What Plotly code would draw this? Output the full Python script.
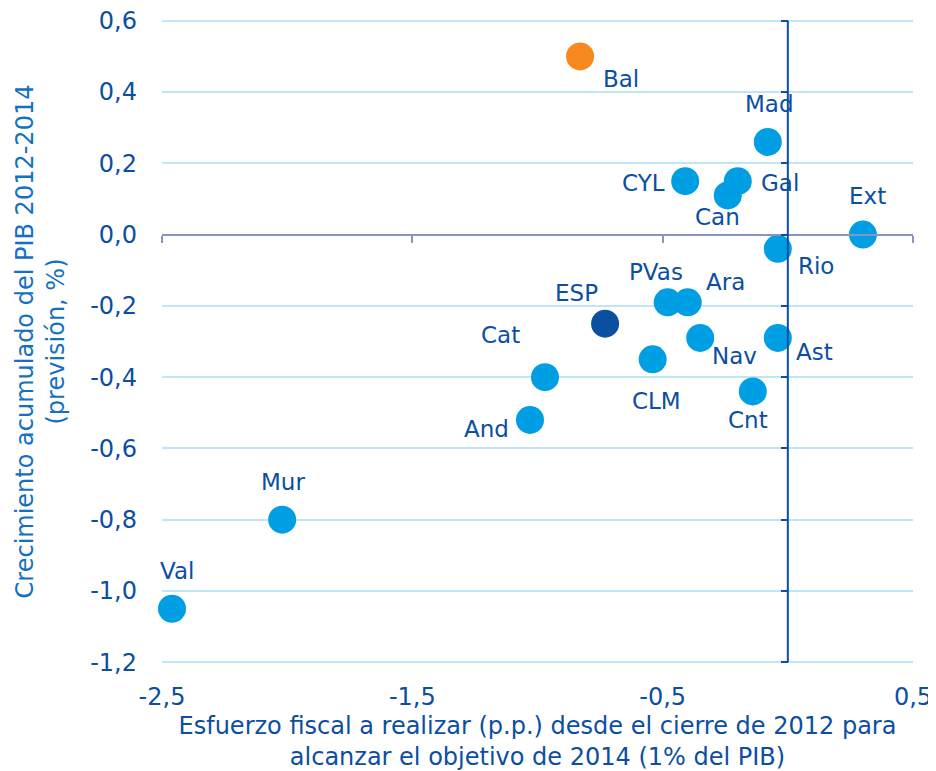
import plotly.graph_objects as go

regions = ["Bal", "Mad", "CYL", "Gal", "Can", "Ext", "Rio", "PVas", "Ara", "ESP",
           "Nav", "Ast", "CLM", "Cat", "And", "Cnt", "Mur", "Val"]
esfuerzo = [-0.83, -0.08, -0.41, -0.20, -0.24, 0.30, -0.04, -0.48, -0.40, -0.73,
            -0.35, -0.04, -0.54, -0.97, -1.03, -0.14, -2.02, -2.46]
crecimiento = [0.50, 0.26, 0.15, 0.15, 0.11, 0.00, -0.04, -0.19, -0.19, -0.25,
               -0.29, -0.29, -0.35, -0.40, -0.52, -0.44, -0.80, -1.05]
colors = ["#F7891F"] + ["#009FE3"] * 8 + ["#0A4FA0"] + ["#009FE3"] * 8
# label offsets in pixels (dx, dy up-positive)
label_shift = {
    "Bal": (41, -23), "Mad": (2, 38), "CYL": (-42, -2), "Gal": (42, -2),
    "Can": (-10, -22), "Ext": (5, 39), "Rio": (38, -17), "PVas": (-12, 30),
    "Ara": (38, 20), "ESP": (-29, 31), "Nav": (34, -18), "Ast": (37, -14),
    "CLM": (4, -42), "Cat": (-45, 42), "And": (-43, -9), "Cnt": (-5, -29),
    "Mur": (1, 38), "Val": (5, 38),
}

x_ticks = [-2.5, -1.5, -0.5, 0.5]
y_ticks = [-1.2, -1.0, -0.8, -0.6, -0.4, -0.2, 0.0, 0.2, 0.4, 0.6]
x_range = [-2.5, 0.5]
y_range = [-1.205, 0.605]

DARK = "#0B4EA2"
FONT = "DejaVu Sans"

fig = go.Figure()
fig.add_trace(go.Scatter(
    x=esfuerzo, y=crecimiento, mode="markers",
    marker=dict(size=28, color=colors, line=dict(width=0)),
    hoverinfo="text", text=regions, showlegend=False, cliponaxis=False,
))
# invisible trace to host the crossing axes
fig.add_trace(go.Scatter(x=[0], y=[0], xaxis="x2", yaxis="y2", mode="markers",
                         marker=dict(opacity=0), showlegend=False, hoverinfo="skip"))

for r, x, y in zip(regions, esfuerzo, crecimiento):
    dx, dy = label_shift[r]
    fig.add_annotation(x=x, y=y, text=r, showarrow=False, xshift=dx, yshift=dy,
                       font=dict(family=FONT, size=23, color=DARK))

x0_pos = (0 - y_range[0]) / (y_range[1] - y_range[0])
y0_pos = (0 - x_range[0]) / (x_range[1] - x_range[0])

fig.update_layout(
    width=928, height=763,
    margin=dict(l=154, r=23, t=11, b=107),
    paper_bgcolor="white", plot_bgcolor="white",
    font=dict(family=FONT, color=DARK),
    xaxis=dict(range=x_range, tickvals=x_ticks, ticktext=[f"{v:.1f}".replace(".", ",") for v in x_ticks],
               showgrid=False, zeroline=False, showline=False, ticks="", automargin=False,
               ticklabeloverflow="allow",
               tickfont=dict(size=24, color=DARK), ticklabelstandoff=16,
               title=dict(text="Esfuerzo fiscal a realizar (p.p.) desde el cierre de 2012 para<br>alcanzar el objetivo de 2014 (1% del PIB)",
                          font=dict(size=24, color=DARK), standoff=12)),
    yaxis=dict(range=y_range, tickvals=y_ticks, ticktext=[f"{v:.1f}".replace(".", ",") for v in y_ticks],
               showgrid=True, gridcolor="#BDE6F7", gridwidth=2, zeroline=False, showline=False,
               ticks="", ticklabelstandoff=24, automargin=False, ticklabeloverflow="allow",
               tickfont=dict(size=24, color=DARK),
               title=dict(text="Crecimiento acumulado del PIB 2012-2014<br>(previsión, %)",
                          font=dict(size=24, color="#1470C2"), standoff=18)),
    xaxis2=dict(range=x_range, overlaying="x", anchor="free", position=x0_pos, side="bottom",
                tickvals=x_ticks, showticklabels=False, ticks="outside", ticklen=7, automargin=False,
                tickcolor="#8A94C0", tickwidth=2, showline=True, linecolor="#8A94C0", linewidth=2,
                showgrid=False, zeroline=False),
    yaxis2=dict(range=y_range, overlaying="y", anchor="free", position=y0_pos, side="left",
                tickvals=y_ticks, showticklabels=False, ticks="outside", ticklen=7, automargin=False,
                tickcolor=DARK, tickwidth=2, showline=False,
                showgrid=False, zeroline=False),
)
# vertical axis line at x = 0 spanning the tick range
fig.add_shape(type="line", xref="x", yref="y", x0=0, x1=0, y0=y_ticks[0], y1=y_ticks[-1],
              line=dict(color=DARK, width=2), layer="above")

fig.write_html("out.html")
